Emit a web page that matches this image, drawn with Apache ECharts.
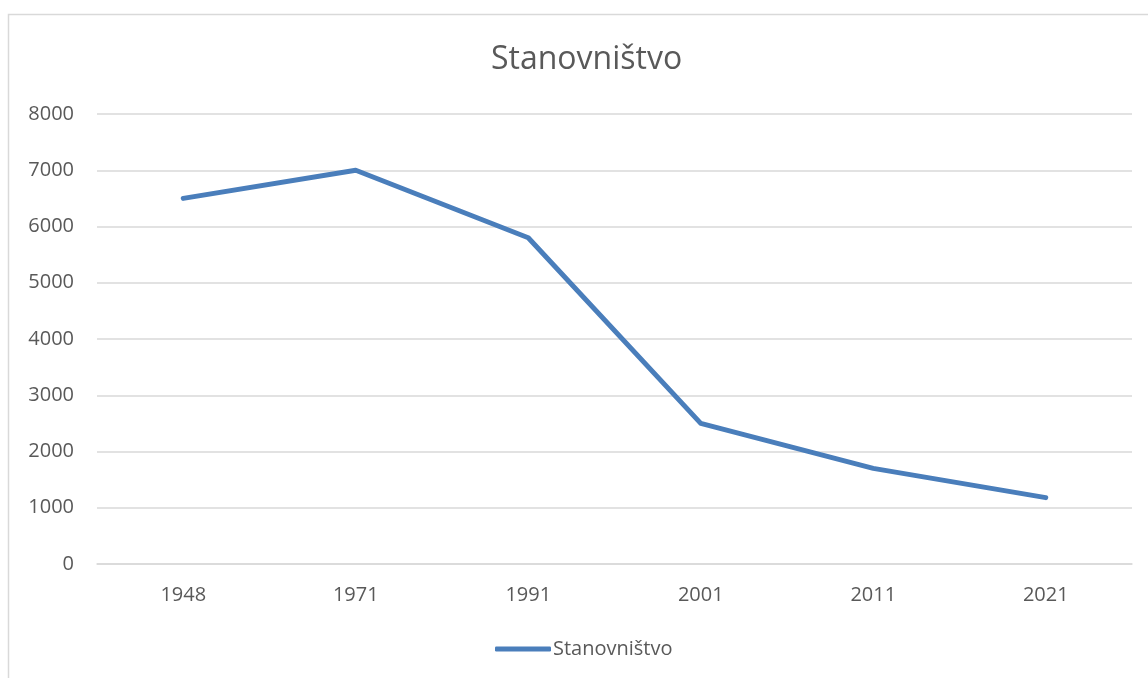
<!DOCTYPE html>
<html>
<head>
<meta charset="utf-8">
<title>Stanovništvo</title>
<script src="https://cdn.jsdelivr.net/npm/echarts@6/dist/echarts.min.js"></script>
<style>
    html, body { margin: 0; padding: 0; background: #fff; }
    #chart { width: 1148px; height: 678px; }
</style>
</head>
<body>
<div id="chart"></div>
<script>
// podaci
const years = ['1948', '1971', '1991', '2001', '2011', '2021'];
const population = [6500, 7000, 5800, 2500, 1700, 1180];

const chart = echarts.init(document.getElementById('chart'));

const textColor = '#595959';
const gridColor = '#d9d9d9';
const lineColor = '#4a7ebb';
const font = 'Open Sans';

chart.setOption({
    animation: false,
    title: {
        text: 'Stanovništvo',
        left: 486,
        top: 39,
        textStyle: { fontFamily: font, fontSize: 32, fontWeight: 'normal', color: textColor }
    },
    graphic: [{
        type: 'rect',
        shape: { x: 8.5, y: 14.5, width: 1200, height: 700 },
        style: { fill: 'none', stroke: gridColor, lineWidth: 1.5 }
    }],
    legend: {
        left: 490,
        top: 634,
        itemWidth: 56,
        itemHeight: 5,
        itemGap: 4,
        data: [{ name: 'Stanovništvo', icon: 'roundRect' }],
        textStyle: { fontFamily: font, fontSize: 20, color: textColor, padding: [0, 0, 0, -3] }
    },
    grid: { left: 97, right: 16, top: 114, bottom: 114 },
    xAxis: {
        type: 'category',
        data: years,
        boundaryGap: true,
        axisLine: { lineStyle: { color: gridColor, width: 1.5 } },
        axisTick: { show: false },
        axisLabel: { fontFamily: font, fontSize: 20, color: textColor, margin: 21 }
    },
    yAxis: {
        type: 'value',
        min: 0,
        max: 8000,
        interval: 1000,
        axisLine: { show: false },
        axisTick: { show: false },
        splitLine: { lineStyle: { color: gridColor, width: 1.5 } },
        axisLabel: {
            fontFamily: font, fontSize: 20, color: textColor, margin: 23,
            formatter: v => String(v)
        }
    },
    series: [{
        name: 'Stanovništvo',
        type: 'line',
        data: population,
        symbol: 'none',
        lineStyle: { color: lineColor, width: 5, cap: 'round', join: 'round' },
        itemStyle: { color: lineColor }
    }]
});
</script>
</body>
</html>
